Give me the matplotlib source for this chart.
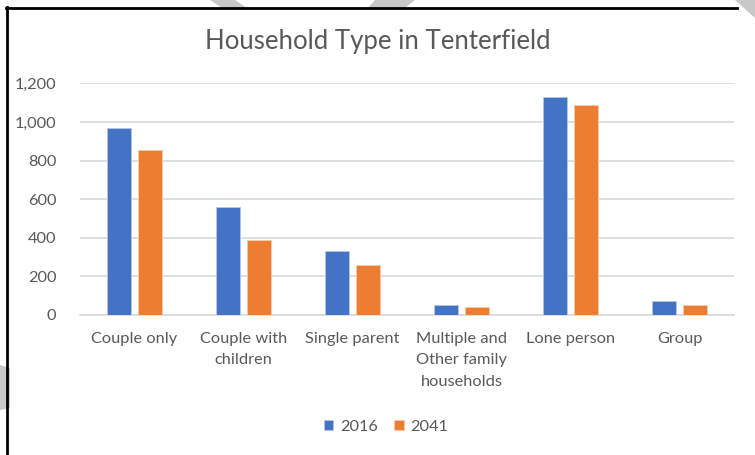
import matplotlib
matplotlib.use("Agg")
import matplotlib.pyplot as plt
from matplotlib.patches import Polygon
from matplotlib.lines import Line2D
import numpy as np

categories = ["Couple only", "Couple with\nchildren", "Single parent",
              "Multiple and\nOther family\nhouseholds", "Lone person", "Group"]
values_2016 = [970, 560, 330, 52, 1131, 74]
values_2041 = [857, 391, 257, 41, 1090, 52]
y_ticks = [0, 200, 400, 600, 800, 1000, 1200]

blue = "#4472C4"
orange = "#ED7D31"
text_grey = "#595959"

plt.rcParams['font.family'] = ['Lato', 'DejaVu Sans']

W, H = 755, 455
fig = plt.figure(figsize=(W / 100, H / 100), dpi=100, facecolor='white')

def fx(px):
    return px / W

def fy(py):
    return 1 - py / H

ax = fig.add_axes([fx(80), fy(315), fx(734) - fx(80), fy(83.3) - fy(315)])

x = np.arange(len(categories))
bw = 0.22
off = 0.142
b1 = ax.bar(x - off, values_2016, bw, color=blue, edgecolor='#b4c7e7', linewidth=0.6,
            label="2016", zorder=3)
b2 = ax.bar(x + off, values_2041, bw, color=orange, edgecolor='#f8cbad', linewidth=0.6,
            label="2041", zorder=3)

ax.set_xlim(-0.5, len(categories) - 0.5)
ax.set_ylim(0, 1200)
ax.set_yticks(y_ticks)
ax.set_yticklabels([f"{v:,}" for v in y_ticks])
ax.set_xticks(x)
ax.set_xticklabels(categories, linespacing=1.68)
ax.yaxis.grid(True, color='#d9d9d9', linewidth=1.2, zorder=0)
ax.set_axisbelow(True)
for s in ['top', 'right', 'left']:
    ax.spines[s].set_visible(False)
ax.spines['bottom'].set_color('#d9d9d9')
ax.spines['bottom'].set_linewidth(1.2)
ax.tick_params(axis='both', length=0, colors=text_grey, labelsize=11.8)
ax.tick_params(axis='y', pad=17)
ax.tick_params(axis='x', pad=12)

fig.text(0.5, fy(42), "Household Type in Tenterfield", ha='center', va='center',
         fontsize=18.5, color=text_grey, fontweight='normal')

fig.legend(handles=[b1, b2], loc='center', bbox_to_anchor=(fx(386), fy(427)),
           ncol=2, frameon=False, fontsize=11.8, handlelength=0.6, handleheight=0.6,
           handletextpad=0.4, columnspacing=1.0, labelcolor=text_grey)

# watermark shapes
grey = '#c8c8c8'
shapes = [
    [(210, 0), (235, 0), (250, 10), (225, 10)],
    [(375, 0), (415, 0), (405, 8), (368, 8)],
    [(735, 0), (755, 0), (755, 18)],
    [(0, 365), (10, 368), (10, 408), (0, 410)],
]
for pts in shapes:
    fig.patches.append(Polygon([(fx(a), fy(b)) for a, b in pts], closed=True,
                               transform=fig.transFigure, facecolor=grey,
                               edgecolor='none', zorder=0))

# chart frame (cropped at right and bottom)
fig.add_artist(Line2D([fx(7), fx(7)], [fy(7), 0], color='black', linewidth=2,
                      transform=fig.transFigure))
fig.add_artist(Line2D([fx(6), fx(737)], [fy(7.5), fy(7.5)], color='black', linewidth=2,
                      transform=fig.transFigure))

fig.savefig("out.png", dpi=100, facecolor='white')
